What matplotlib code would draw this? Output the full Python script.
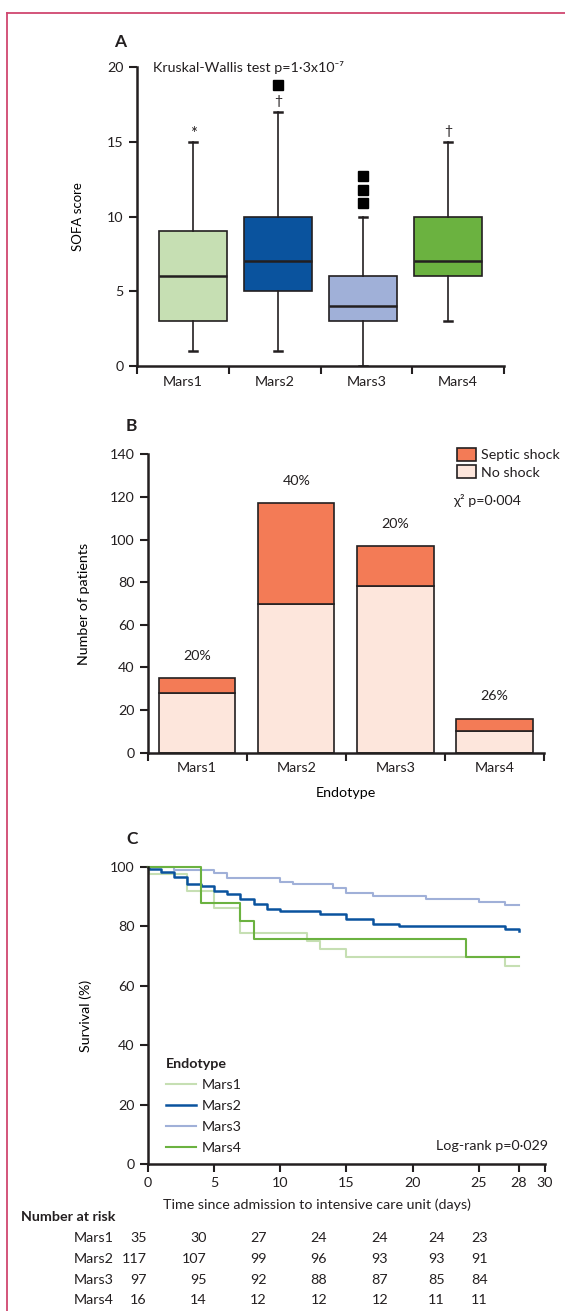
import matplotlib
matplotlib.use('Agg')
import matplotlib.pyplot as plt
import numpy as np
from matplotlib.lines import Line2D
from matplotlib.patches import Patch

plt.rcParams['font.family'] = ['Lato', 'DejaVu Sans']
plt.rcParams['text.color'] = '#231f20'
plt.rcParams['axes.edgecolor'] = '#231f20'
plt.rcParams['xtick.color'] = '#231f20'
plt.rcParams['ytick.color'] = '#231f20'

FS = 10.3

# data
endotypes = ['Mars1', 'Mars2', 'Mars3', 'Mars4']
colors = ['#c6dfb3', '#0a539e', '#a0b0d8', '#6bb240']

# panel A: SOFA score box plots (whislo, q1, med, q3, whishi)
sofa_whislo = [1, 1, 0, 3]
sofa_q1 = [3, 5, 3, 6]
sofa_med = [6, 7, 4, 7]
sofa_q3 = [9, 10, 6, 10]
sofa_whishi = [15, 17, 10, 15]
sofa_fliers = [[], [18.8], [10.9, 11.8, 12.7], []]
sofa_marks = ['*', '†', '', '†']

# panel B: shock counts
no_shock = [28, 70, 78, 10]
septic_shock = [7, 47, 19, 6]
shock_pct = ['20%', '40%', '20%', '26%']

# panel C: Kaplan-Meier survival
km_t1 = [0, 0.1, 3, 5, 7, 12, 13, 15, 27, 28]
km_s1 = [100, 97.4, 91.7, 86.1, 77.7, 75.0, 72.2, 69.5, 66.6, 66.6]
km_t2 = [0, 0.1, 1, 2, 3, 4, 5, 6, 7, 8, 9, 10, 13, 15, 17, 19, 27, 28]
km_s2 = [100, 99.3, 98.3, 96.7, 94.1, 93.4, 91.7, 90.9, 89.1, 87.6, 85.8, 85.0,
         84.2, 82.5, 80.9, 80.0, 79.1, 78.5]
km_t3 = [0, 2, 5, 6, 10, 11, 14, 15, 17, 21, 25, 27, 28]
km_s3 = [100, 99.0, 97.9, 96.1, 95.0, 94.1, 93.0, 91.1, 90.1, 89.0, 88.0, 87.0, 87.0]
km_t4 = [0, 4, 7, 8, 24, 28]
km_s4 = [100, 87.8, 81.7, 75.7, 69.6, 69.6]

risk_mars1 = [35, 30, 27, 24, 24, 24, 23]
risk_mars2 = [117, 107, 99, 96, 93, 93, 91]
risk_mars3 = [97, 95, 92, 88, 87, 85, 84]
risk_mars4 = [16, 14, 12, 12, 12, 11, 11]

W, H = 565, 1311
fig = plt.figure(figsize=(W / 100, H / 100), dpi=100)


def fx(px):
    return px / W


def fy(py):
    return 1 - py / H


def style(ax):
    for s in ['top', 'right']:
        ax.spines[s].set_visible(False)
    for s in ['left', 'bottom']:
        ax.spines[s].set_linewidth(1.8)
    ax.tick_params(direction='out', length=6, width=1.5, labelsize=FS)


# frame
fig.add_artist(Line2D([fx(6.5), fx(6.5)], [0, fy(13)], color='#d04770', lw=1.3))
fig.add_artist(Line2D([fx(6.5), 1], [fy(13), fy(13)], color='#d04770', lw=1.3))

# ---------- A ----------
axA = fig.add_axes([fx(137), fy(366), fx(504) - fx(137), fy(67) - fy(366)])
style(axA)
stats = []
for i in range(4):
    stats.append(dict(med=sofa_med[i], q1=sofa_q1[i], q3=sofa_q3[i],
                      whislo=sofa_whislo[i], whishi=sofa_whishi[i],
                      fliers=sofa_fliers[i]))
bp = axA.bxp(stats, positions=range(4), widths=0.8, capwidths=0.1, patch_artist=True,
             boxprops=dict(lw=1.2, edgecolor='#231f20'),
             medianprops=dict(color='#231f20', lw=1.8),
             whiskerprops=dict(color='#231f20', lw=1.2),
             capprops=dict(color='#231f20', lw=1.8),
             flierprops=dict(marker='s', markersize=7, markerfacecolor='black',
                             markeredgecolor='black'))
for patch, c in zip(bp['boxes'], colors):
    patch.set_facecolor(c)
for i, m in enumerate(sofa_marks):
    if m == '*':
        axA.text(i, sofa_whishi[i] + 0.55, m, ha='center', va='center', fontsize=12)
    elif m:
        axA.text(i, sofa_whishi[i] + 0.75, m, ha='center', va='center', fontsize=FS)
xa0, xa1 = -0.66, 3.66
axA.set_xlim(xa0, xa1)
axA.set_ylim(0, 20)
seps = np.linspace(xa0, xa1, 5)
axA.set_xticks(seps)
axA.set_xticklabels([])
axA.set_xticks((seps[:-1] + seps[1:]) / 2, minor=True)
axA.set_xticklabels(endotypes, minor=True)
axA.tick_params(axis='x', which='minor', length=0, labelsize=FS, pad=7)
axA.set_yticks([0, 5, 10, 15, 20])
axA.set_ylabel('SOFA score', fontsize=9.5)
axA.yaxis.set_label_coords(-0.144, 0.5)
axA.text(0.044, 1.0, 'Kruskal-Wallis test p=1·3x10⁻⁷', transform=axA.transAxes,
         ha='left', va='center', fontsize=FS)
fig.text(fx(120), fy(42), 'A', ha='center', va='center', fontsize=12.5, fontweight='bold')

# ---------- B ----------
axB = fig.add_axes([fx(147.7), fy(752.7), fx(544) - fx(147.7), fy(454.3) - fy(752.7)])
style(axB)
x = np.arange(4)
total = np.array(no_shock) + np.array(septic_shock)
axB.bar(x, no_shock, width=0.77, color='#fde6dc', edgecolor='#231f20', lw=1.2)
axB.bar(x, septic_shock, bottom=no_shock, width=0.77, color='#f37b56',
        edgecolor='#231f20', lw=1.2)
for i in range(4):
    axB.text(i, total[i] + 10.5, shock_pct[i], ha='center', va='center', fontsize=FS)
axB.set_xlim(-0.5, 3.5)
axB.set_ylim(0, 140)
axB.set_xticks(np.arange(-0.5, 4, 1))
axB.set_xticklabels([])
axB.set_xticks(x, minor=True)
axB.set_xticklabels(endotypes, minor=True)
axB.tick_params(axis='x', which='minor', length=0, labelsize=FS, pad=7)
axB.set_yticks(np.arange(0, 141, 20))
axB.set_ylabel('Number of patients', fontsize=FS)
axB.yaxis.set_label_coords(-0.146, 0.5)
axB.set_xlabel('Endotype', fontsize=FS, labelpad=9)
handles = [Patch(facecolor='#f37b56', edgecolor='#231f20', lw=1.2, label='Septic shock'),
           Patch(facecolor='#fde6dc', edgecolor='#231f20', lw=1.2, label='No shock')]
axB.legend(handles=handles, loc='upper left', bbox_to_anchor=(0.755, 1.055), frameon=False,
           fontsize=FS, handlelength=1.3, handleheight=1.0, handletextpad=0.35,
           labelspacing=0.3, borderpad=0.2)
axB.text(0.77, 0.845, 'χ² p=0·004', transform=axB.transAxes, ha='left', va='center',
         fontsize=FS)
fig.text(fx(131), fy(426), 'B', ha='center', va='center', fontsize=12.5, fontweight='bold')

# ---------- C ----------
axC = fig.add_axes([fx(147.7), fy(1164.3), fx(545) - fx(147.7), fy(866.7) - fy(1164.3)])
style(axC)
km = [(km_t1, km_s1), (km_t2, km_s2), (km_t3, km_s3), (km_t4, km_s4)]
lws = [1.5, 1.8, 1.5, 1.5]
for (t, s), c, lw, name in zip(km, colors, lws, endotypes):
    axC.step(t, s, where='post', color=c, lw=lw, label=name, clip_on=False)
axC.set_xlim(0, 30)
axC.set_ylim(0, 100)
axC.set_xticks([0, 5, 10, 15, 20, 25, 28, 30])
axC.set_yticks(np.arange(0, 101, 20))
axC.set_ylabel('Survival (%)', fontsize=FS)
axC.yaxis.set_label_coords(-0.141, 0.5)
leg = axC.legend(loc='upper left', bbox_to_anchor=(0.02, 0.39), frameon=False,
                 fontsize=FS, title='Endotype', handlelength=2.1, handletextpad=0.4,
                 labelspacing=0.62, alignment='left', borderpad=0.2)
leg.get_title().set_fontweight('bold')
leg.get_title().set_fontsize(FS)
axC.text(1.0075, 0.0615, 'Log-rank p=0·029', transform=axC.transAxes, ha='right',
         va='center', fontsize=FS)
fig.text(fx(131.7), fy(839), 'C', ha='center', va='center', fontsize=12.5, fontweight='bold')
fig.text(fx(317), fy(1205), 'Time since admission to intensive care unit (days)',
         ha='center', va='center', fontsize=FS)

# number at risk table
fig.text(fx(21), fy(1217), 'Number at risk', ha='left', va='center', fontsize=FS,
         fontweight='bold')
col_right = [146.7, 206.7, 266.7, 327, 388, 445, 488]
row_y = [1238, 1259, 1280, 1300]
for name, row, yy in zip(endotypes, [risk_mars1, risk_mars2, risk_mars3, risk_mars4], row_y):
    fig.text(fx(114), fy(yy), name, ha='right', va='center', fontsize=FS)
    for v, xx in zip(row, col_right):
        fig.text(fx(xx), fy(yy), str(v), ha='right', va='center', fontsize=FS)

fig.savefig('out.png', dpi=100)
